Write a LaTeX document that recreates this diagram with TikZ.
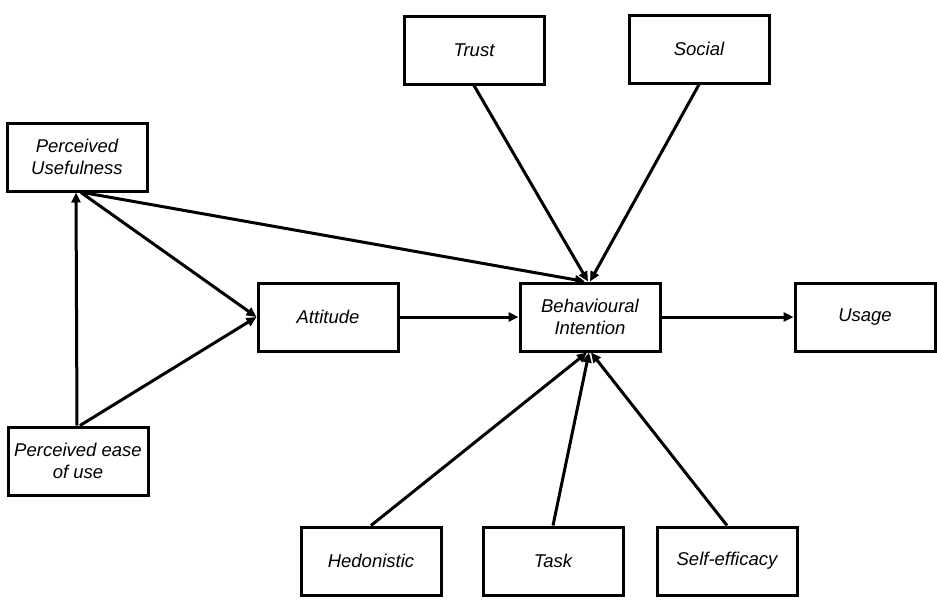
\documentclass[tikz,border=0pt]{standalone}
\usepackage{fontspec}
\setmainfont{Liberation Sans}
\usetikzlibrary{arrows.meta}
\tikzset{
  factor/.style={draw, rectangle, line width=3pt, minimum width=140pt, minimum height=68pt, align=center, font=\fontsize{18.5}{21.5}\selectfont\itshape},
  link/.style={line width=3pt, -{Triangle[length=10pt,width=9pt]}}
}
\begin{document}
\begin{tikzpicture}[x=1pt, y=-1pt]
	\useasboundingbox (0,0) rectangle (937,606);
	\node[factor] (trust) at (474, 50) {Trust};
	\node[factor] (social) at (699, 49) {Social};
	\node[factor] (usefulness) at (77, 157) {Perceived\\Usefulness};
	\node[factor] (attitude) at (328, 317) {Attitude};
	\node[factor] (intention) at (590, 317) {Behavioural\\Intention};
	\node[factor] (usage) at (865, 317) {Usage};
	\node[factor] (ease) at (78, 461) {Perceived ease\\of use};
	\node[factor] (hedonistic) at (371, 561) {Hedonistic};
	\node[factor] (task) at (553, 561) {Task};
	\node[factor] (efficacy) at (727, 561) {Self-efficacy};
	% TAM core
	\draw[link] ([xshift=-1pt]ease.north) -- ([xshift=-1pt]usefulness.south);
	\draw[link] ([xshift=2pt]ease.north) -- (attitude.west);
	\draw[link] ([xshift=4pt]usefulness.south) -- (attitude.west);
	\draw[link] ([xshift=6pt]usefulness.south) -- ([xshift=-5pt]intention.north);
	\draw[link] (attitude) -- (intention);
	\draw[link] (intention) -- (usage);
	% extra factors
	\draw[link] (trust.south) -- ([xshift=-2pt]intention.north);
	\draw[link] (social.south) -- ([xshift=0pt]intention.north);
	\draw[link] (hedonistic.north) -- ([xshift=-3pt]intention.south);
	\draw[link] (task.north) -- ([xshift=-1pt]intention.south);
	\draw[link] (efficacy.north) -- ([xshift=1pt]intention.south);
\end{tikzpicture}
\end{document}
